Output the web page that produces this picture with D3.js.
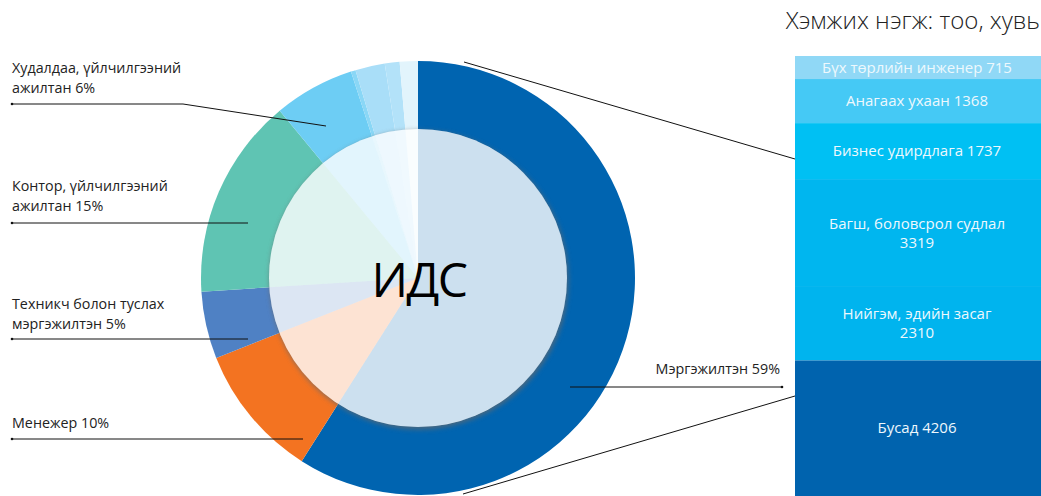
<!DOCTYPE html>
<html>
<head>
<meta charset="utf-8">
<script src="https://cdn.jsdelivr.net/npm/d3@7"></script>
<style>
  html, body { margin: 0; padding: 0; background: #fff; }
  svg { display: block; font-family: "Open Sans", "Noto Sans", sans-serif; }
</style>
</head>
<body>
<svg id="chart" width="1041" height="496"></svg>
<script>
// ---- data ----
const pieCategories = ["Мэргэжилтэн", "Менежер", "Техникч болон туслах мэргэжилтэн", "Контор, үйлчилгээний ажилтан", "Худалдаа, үйлчилгээний ажилтан", "Бусад 1", "Бусад 2", "Бусад 3", "Бусад 4"];
const pieValues = [59, 10, 5, 15, 6, 0.35, 2.2, 1.1, 1.35];
const pieColors = ["#0064b0", "#f37321", "#4f81c4", "#5fc4b3", "#6dcdf4", "#8ad7f6", "#a9def8", "#b3e2f9", "#e2f4fc"];

const barCategories = ["Бүх төрлийн инженер", "Анагаах ухаан", "Бизнес удирдлага", "Багш, боловсрол судлал", "Нийгэм, эдийн засаг", "Бусад"];
const barValues = [715, 1368, 1737, 3319, 2310, 4206];
const barColors = ["#90d8f6", "#45c9f5", "#00c0f3", "#00b6ef", "#00b4ee", "#0063ae"];

const titleText = "Хэмжих нэгж: тоо, хувь";
const centerText = "ИДС";

// ---- layout ----
const svg = d3.select("#chart");
const cx = 418, cy = 278, R = 217, r0 = 149;

const defs = svg.append("defs");
const f = defs.append("filter").attr("id", "shadow").attr("x", "-20%").attr("y", "-20%").attr("width", "140%").attr("height", "140%");
f.append("feGaussianBlur").attr("stdDeviation", 2.5);

const pie = d3.pie().sort(null).value(d => d);
const arcs = pie(pieValues);
const outerArc = d3.arc().innerRadius(0).outerRadius(R);
const innerArc = d3.arc().innerRadius(0).outerRadius(r0);

const g = svg.append("g").attr("transform", `translate(${cx},${cy})`);
g.selectAll("path.outer").data(arcs).join("path")
  .attr("class", "outer")
  .attr("d", outerArc)
  .attr("fill", (d, i) => pieColors[i]);

// shadow around inner circle
g.append("circle").attr("r", r0 + 0.5).attr("cx", 1).attr("cy", 2)
  .attr("fill", "#6b6b6b").attr("opacity", 0.7).attr("filter", "url(#shadow)");
g.append("circle").attr("r", r0).attr("fill", "#fff");

g.selectAll("path.inner").data(arcs).join("path")
  .attr("class", "inner")
  .attr("d", innerArc)
  .attr("fill", (d, i) => pieColors[i])
  .attr("fill-opacity", 0.2);

g.append("text").text(centerText)
  .attr("x", 1).attr("y", 19)
  .attr("text-anchor", "middle")
  .attr("font-size", 48).attr("letter-spacing", -1.5).attr("fill", "#000");

// ---- stacked bar ----
const total = d3.sum(barValues);
const y = d3.scaleLinear().domain([0, total]).range([56, 496]);
const barX = 795, barW = 246;
let cum = 0;
const stacks = barValues.map((v, i) => { const s = { y0: cum, y1: cum + v, v, i }; cum += v; return s; });
svg.selectAll("rect.bar").data(stacks).join("rect")
  .attr("class", "bar")
  .attr("x", barX).attr("width", barW)
  .attr("y", d => y(d.y0)).attr("height", d => y(d.y1) - y(d.y0))
  .attr("fill", d => barColors[d.i]);

const barLabelX = barX + 122;
stacks.forEach(d => {
  const mid = (y(d.y0) + y(d.y1)) / 2;
  const name = barCategories[d.i];
  const t = svg.append("text").attr("text-anchor", "middle").attr("fill", "#eef8fd").attr("font-size", 15);
  if (d.i === 3 || d.i === 4) {
    t.append("tspan").attr("x", barLabelX).attr("y", mid - 4).text(name);
    t.append("tspan").attr("x", barLabelX).attr("y", mid + 15).text(d.v);
  } else {
    t.attr("x", barLabelX).attr("y", mid + 5).text(name + " " + d.v);
  }
});

// title
svg.append("text").text(titleText)
  .attr("x", 1040).attr("y", 29).attr("text-anchor", "end")
  .attr("font-size", 24).attr("font-weight", 300).attr("fill", "#222");

// connector lines pie -> bar
svg.append("line").attr("x1", 464).attr("y1", 62).attr("x2", barX).attr("y2", 159).attr("stroke", "#111").attr("stroke-width", 1);
svg.append("line").attr("x1", 463).attr("y1", 494).attr("x2", barX).attr("y2", 396).attr("stroke", "#111").attr("stroke-width", 1);

// ---- pie labels ----
const labels = [
  { lines: ["Худалдаа, үйлчилгээний", "ажилтан 6%"], x: 12, ty: 73, pts: [[12, 104], [183, 104], [326, 126]], anchor: "start" },
  { lines: ["Контор, үйлчилгээний", "ажилтан 15%"], x: 12, ty: 191, pts: [[12, 223], [248, 223]], anchor: "start" },
  { lines: ["Техникч болон туслах", "мэргэжилтэн 5%"], x: 12, ty: 309, pts: [[12, 339], [248, 339]], anchor: "start" },
  { lines: ["Менежер 10%"], x: 12, ty: 428, pts: [[12, 439], [303, 439]], anchor: "start" },
  { lines: ["Мэргэжилтэн 59%"], x: 780, ty: 374, pts: [[782, 387], [570, 387]], anchor: "end" }
];
const lineGen = d3.line();
labels.forEach(l => {
  const t = svg.append("text").attr("text-anchor", l.anchor).attr("font-size", 14.3).attr("fill", "#222");
  l.lines.forEach((s, k) => t.append("tspan").attr("x", l.x).attr("y", l.ty + k * 20).text(s));
  svg.append("path").attr("d", lineGen(l.pts)).attr("fill", "none").attr("stroke", "#111").attr("stroke-width", 1);
  svg.append("circle").attr("cx", l.pts[0][0]).attr("cy", l.pts[0][1]).attr("r", 1.3).attr("fill", "#111");
});
</script>
</body>
</html>
